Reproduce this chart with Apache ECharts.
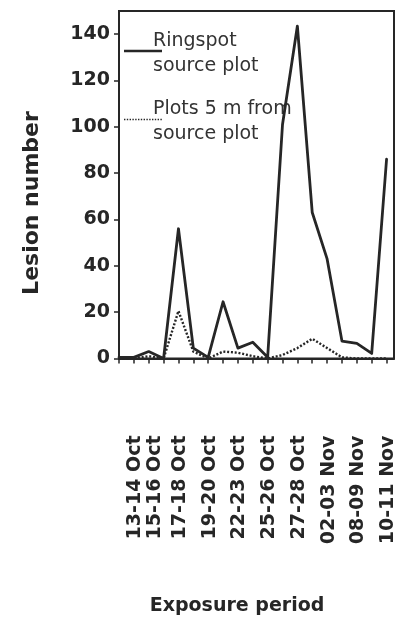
<!DOCTYPE html>
<html>
<head>
<meta charset="utf-8">
<script src="https://cdn.jsdelivr.net/npm/echarts@6/dist/echarts.min.js"></script>
<style>
  html, body { margin: 0; padding: 0; background: #ffffff; }
  #chart { width: 408px; height: 621px; }
</style>
</head>
<body>
<div id="chart"></div>
<script>
// Lesion counts for 19 consecutive exposure periods
const ringspotSource = [0.5, 0.5, 3, 0, 56, 4.5, 0.5, 24.5, 4.5, 7, 0.5, 101, 143.5, 63, 43, 7.5, 6.5, 2.2, 86];
const plotsFiveMetres = [0, 0, 1, 0, 20.5, 3, 0, 3, 2.5, 1, 0, 1.5, 4.5, 8.5, 4.5, 0.5, 0, 0, 0];

// Exposure periods printed under the axis, and the sampling index each sits at
const periodLabels = ['13-14 Oct', '15-16 Oct', '17-18 Oct', '19-20 Oct', '22-23 Oct',
                      '25-26 Oct', '27-28 Oct', '02-03 Nov', '08-09 Nov', '10-11 Nov'];
const periodLabelPos = [1, 2, 4, 6, 8, 10, 12, 14, 16, 18];

// Lesion-number ticks
const yTicks = [0, 20, 40, 60, 80, 100, 120, 140];

const FONT = 'DejaVu Sans';
const INK = '#262626';

const chart = echarts.init(document.getElementById('chart'), null, { renderer: 'canvas' });

const toPoints = arr => arr.map((v, i) => [i, v]);

// Rotated period names; the second one is nudged clear of its crowded neighbour
const periodName = v => {
  const k = periodLabelPos.indexOf(v);
  if (k < 0) return '';
  return (k === 1 ? '{wide|' : '{std|') + periodLabels[k] + '}';
};
const labelFont = { color: INK, fontFamily: FONT, fontWeight: 'bold', fontSize: 19 };
const periodLabelStyle = Object.assign({
  formatter: periodName,
  hideOverlap: false, showMinLabel: true, showMaxLabel: true,
  rotate: 90, margin: 77,
  rich: {
    std: Object.assign({ padding: [3, 0, 0, 0] }, labelFont),
    wide: Object.assign({ padding: [12, 0, 0, 0] }, labelFont)
  }
}, labelFont);

chart.setOption({
  animation: false,
  backgroundColor: '#ffffff',
  grid: {
    left: 119, top: 11, width: 275, height: 347.5,
    show: true, borderColor: INK, borderWidth: 2, backgroundColor: 'transparent'
  },
  xAxis: [
    {
      type: 'value',
      min: 0, max: 18.5, interval: 1,
      axisLine: { show: true, lineStyle: { color: INK, width: 2 } },
      axisTick: { show: true, inside: false, length: 5, lineStyle: { color: INK, width: 1.5 },
                  customValues: ringspotSource.map((v, i) => i) },
      // every period after the first
      axisLabel: Object.assign({ customValues: periodLabelPos.slice(1) }, periodLabelStyle),
      splitLine: { show: false }
    },
    {
      // the first period, printed on its own so it is never dropped as an overlap
      type: 'value', position: 'bottom',
      min: 0, max: 18.5, interval: 1,
      axisLine: { show: false }, axisTick: { show: false }, splitLine: { show: false },
      axisLabel: Object.assign({ customValues: periodLabelPos.slice(0, 1) }, periodLabelStyle)
    }
  ],
  yAxis: {
    type: 'value',
    min: 0, max: 150,
    axisLine: { show: true, lineStyle: { color: INK, width: 2 } },
    axisTick: { show: true, inside: false, length: 5, lineStyle: { color: INK, width: 1.5 },
                customValues: yTicks },
    axisLabel: Object.assign({ customValues: yTicks, margin: 9, hideOverlap: false,
                 showMinLabel: true, showMaxLabel: true }, labelFont),
    splitLine: { show: false }
  },
  series: [
    {
      name: 'Ringspot source plot',
      type: 'line',
      xAxisIndex: 0,
      data: toPoints(ringspotSource),
      symbol: 'none',
      lineStyle: { color: INK, width: 2.8, join: 'round', cap: 'round' },
      z: 3
    },
    {
      name: 'Plots 5 m from source plot',
      type: 'line',
      xAxisIndex: 0,
      data: toPoints(plotsFiveMetres),
      symbol: 'none',
      lineStyle: { color: INK, width: 2.4, type: [2, 1.8] },
      z: 2
    }
  ],
  graphic: [
    // axis titles
    {
      type: 'text', x: 32, y: 203, rotation: Math.PI / 2,
      style: { text: 'Lesion number', fill: INK, font: 'bold 22px "DejaVu Sans"',
               textAlign: 'center', textVerticalAlign: 'middle' }
    },
    {
      type: 'text', x: 237, y: 606,
      style: { text: 'Exposure period', fill: INK, font: 'bold 19px "DejaVu Sans"',
               textAlign: 'center', textVerticalAlign: 'middle' }
    },
    // legend keys
    {
      type: 'line', shape: { x1: 124, y1: 51, x2: 162, y2: 51 },
      style: { stroke: INK, lineWidth: 2.6 }
    },
    {
      type: 'text', x: 153, y: 29,
      style: { text: 'Ringspot\nsource plot', fill: '#333333', font: '19px "DejaVu Sans"',
               lineHeight: 25, textVerticalAlign: 'top' }
    },
    {
      type: 'line', shape: { x1: 124, y1: 119.5, x2: 162, y2: 119.5 },
      style: { stroke: INK, lineWidth: 1.6, lineDash: [1.4, 1.4] }
    },
    {
      type: 'text', x: 153, y: 97,
      style: { text: 'Plots 5 m from\nsource plot', fill: '#333333', font: '19px "DejaVu Sans"',
               lineHeight: 25, textVerticalAlign: 'top' }
    }
  ]
});
</script>
</body>
</html>
